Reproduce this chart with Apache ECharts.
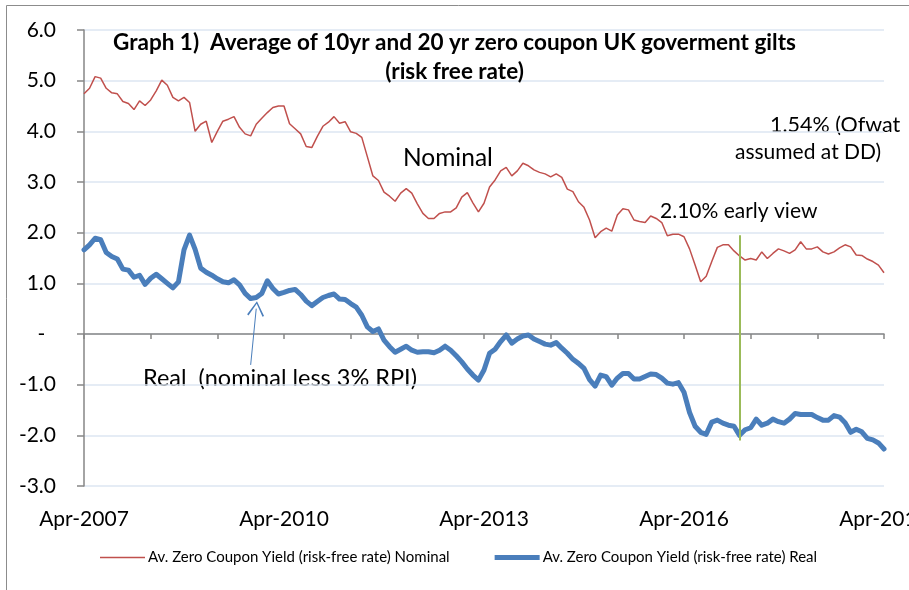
<!DOCTYPE html>
<html>
<head>
<meta charset="utf-8">
<script src="https://cdn.jsdelivr.net/npm/echarts@6/dist/echarts.min.js"></script>
<style>
  html, body { margin: 0; padding: 0; background: #fff; }
  #chart { width: 909px; height: 590px; }
</style>
</head>
<body>
<div id="chart"></div>
<script>
// monthly categories Apr-2007 .. Apr-2019
var monthNames = ["Jan", "Feb", "Mar", "Apr", "May", "Jun", "Jul", "Aug", "Sep", "Oct", "Nov", "Dec"];
var months = [];
for (var k = 3; k <= 12 * 12 + 3; k++) {
  months.push(monthNames[k % 12] + "-" + (2007 + Math.floor(k / 12)));
}

// av. zero coupon yield, nominal (%)
var nominal = [
  4.74, 4.85, 5.08, 5.05, 4.85, 4.76, 4.74, 4.59, 4.55, 4.43,
  4.60, 4.51, 4.62, 4.80, 5.01, 4.91, 4.67, 4.60, 4.67, 4.57,
  4.00, 4.14, 4.20, 3.78, 4.00, 4.20, 4.24, 4.29, 4.08, 3.95,
  3.91, 4.14, 4.26, 4.37, 4.47, 4.50, 4.50, 4.15, 4.05, 3.95,
  3.70, 3.68, 3.90, 4.10, 4.18, 4.29, 4.16, 4.19, 3.99, 3.96,
  3.88, 3.50, 3.12, 3.03, 2.80, 2.72, 2.62, 2.78, 2.87, 2.78,
  2.57, 2.38, 2.28, 2.28, 2.38, 2.41, 2.41, 2.49, 2.70, 2.79,
  2.59, 2.41, 2.58, 2.90, 3.04, 3.22, 3.29, 3.12, 3.22, 3.37,
  3.32, 3.24, 3.19, 3.16, 3.10, 3.16, 3.09, 2.86, 2.81, 2.61,
  2.50, 2.25, 1.90, 2.02, 2.09, 2.03, 2.35, 2.47, 2.45, 2.25,
  2.22, 2.20, 2.33, 2.28, 2.20, 1.94, 1.97, 1.97, 1.92, 1.68,
  1.36, 1.03, 1.14, 1.43, 1.71, 1.76, 1.76, 1.64, 1.54, 1.46,
  1.49, 1.46, 1.62, 1.49, 1.59, 1.68, 1.64, 1.59, 1.66, 1.82,
  1.68, 1.68, 1.72, 1.62, 1.58, 1.62, 1.70, 1.76, 1.72, 1.56,
  1.55, 1.48, 1.43, 1.36, 1.21
];

// av. zero coupon yield, real (%)
var real = [
  1.66, 1.76, 1.89, 1.86, 1.61, 1.53, 1.48, 1.28, 1.26, 1.12,
  1.16, 0.98, 1.10, 1.18, 1.09, 1.00, 0.91, 1.03, 1.66, 1.95,
  1.67, 1.30, 1.22, 1.16, 1.09, 1.03, 1.01, 1.07, 0.97, 0.80,
  0.70, 0.72, 0.80, 1.05, 0.90, 0.79, 0.82, 0.86, 0.88, 0.78,
  0.65, 0.56, 0.64, 0.72, 0.76, 0.79, 0.69, 0.68, 0.60, 0.53,
  0.37, 0.14, 0.05, 0.10, -0.12, -0.25, -0.36, -0.30, -0.24, -0.32,
  -0.36, -0.35, -0.35, -0.37, -0.32, -0.24, -0.32, -0.43, -0.55, -0.69,
  -0.81, -0.91, -0.71, -0.38, -0.30, -0.15, -0.02, -0.18, -0.10, -0.04,
  -0.02, -0.10, -0.15, -0.20, -0.22, -0.17, -0.28, -0.38, -0.50, -0.58,
  -0.68, -0.90, -1.03, -0.81, -0.84, -1.01, -0.87, -0.78, -0.78, -0.89,
  -0.89, -0.84, -0.79, -0.80, -0.87, -0.97, -0.99, -0.96, -1.15, -1.55,
  -1.82, -1.94, -1.98, -1.74, -1.70, -1.76, -1.80, -1.82, -2.00, -1.89,
  -1.85, -1.68, -1.80, -1.76, -1.68, -1.73, -1.76, -1.68, -1.57, -1.59,
  -1.59, -1.59, -1.65, -1.70, -1.70, -1.61, -1.64, -1.75, -1.94, -1.88,
  -1.93, -2.06, -2.09, -2.15, -2.27
];

var seriesNames = [
  "Av. Zero Coupon Yield (risk-free rate) Nominal",
  "Av. Zero Coupon Yield (risk-free rate) Real"
];

// "early view" marker month and the arrow pointing at the real line
var earlyViewIdx = 118;
var arrowFrom = [30, -0.61];
var arrowTo = [31, 0.5];

var font = "Lato, 'Open Sans', sans-serif";
var axisGrey = "#868686";
var chart = echarts.init(document.getElementById("chart"), null, { renderer: "canvas" });

chart.setOption({
  animation: false,
  backgroundColor: "#fff",
  textStyle: { fontFamily: font, color: "#000" },
  title: {
    text: "Graph 1)  Average of 10yr and 20 yr zero coupon UK goverment gilts\n(risk free rate)",
    left: "center",
    top: 28,
    padding: 0,
    textStyle: {
      fontFamily: font,
      fontSize: 22.5,
      fontWeight: "bold",
      lineHeight: 29,
      color: "#000",
    },
  },
  grid: {
    left: 84,
    right: 25,
    top: 30,
    bottom: 104,
    containLabel: false,
    outerBoundsMode: "none",
  },
  legend: {
    left: 100,
    top: 550,
    itemWidth: 45,
    itemHeight: 12,
    itemGap: 45,
    padding: 0,
    textStyle: { fontFamily: font, fontSize: 15, color: "#000", padding: [0, 0, 0, -2] },
    data: [
      { name: seriesNames[0], icon: "path://M0,0 H45 V1.5 H0 Z" },
      { name: seriesNames[1], icon: "path://M0,0 H45 V5 H0 Z" },
    ],
  },
  xAxis: [
    {
      // labels along the bottom
      type: "category",
      data: months,
      boundaryGap: false,
      position: "bottom",
      axisLine: { show: false, onZero: false },
      axisTick: { show: false },
      axisLabel: {
        interval: 35,
        margin: 23,
        fontSize: 21,
        color: "#000",
        fontFamily: font,
      },
      splitLine: { show: false },
    },
    {
      // axis line with yearly ticks sitting on zero
      type: "category",
      data: months,
      boundaryGap: false,
      position: "bottom",
      axisLine: { onZero: true, lineStyle: { color: axisGrey, width: 1.5 } },
      axisTick: { interval: 11, length: 5, lineStyle: { color: axisGrey, width: 1.5 } },
      axisLabel: { show: false },
      splitLine: { show: false },
    },
  ],
  yAxis: {
    type: "value",
    min: -3,
    max: 6,
    interval: 1,
    axisLine: { show: true, onZero: false, lineStyle: { color: axisGrey, width: 1.5 } },
    axisTick: { show: true, length: 7, lineStyle: { color: axisGrey, width: 1.5 } },
    axisLabel: {
      margin: 28,
      fontSize: 21,
      color: "#000",
      fontFamily: font,
      formatter: function (v) {
        return v === 0 ? "-  " : v.toFixed(1);
      },
    },
    splitLine: { lineStyle: { color: "#dce6f2", width: 1.5 } },
  },
  series: [
    {
      name: seriesNames[0],
      type: "line",
      data: nominal,
      symbol: "none",
      lineStyle: { color: "#c0504d", width: 1.5 },
      itemStyle: { color: "#c0504d" },
      z: 3,
      markLine: {
        silent: true,
        symbol: "none",
        label: { show: false },
        lineStyle: { color: "#9bbb59", width: 2, type: "solid" },
        data: [
          [{ coord: [earlyViewIdx, 1.95] }, { coord: [earlyViewIdx, -2.1] }],
        ],
      },
    },
    {
      name: seriesNames[1],
      type: "line",
      data: real,
      symbol: "none",
      lineStyle: { color: "#4a7ebb", width: 5, cap: "round", join: "round" },
      itemStyle: { color: "#4a7ebb" },
      z: 2,
      markLine: {
        silent: true,
        symbol: ["none", "path://M10,0 L20,18 L18.3,19.2 L10,3.4 L1.7,19.2 L0,18 Z"],
        symbolSize: [17, 15],
        label: { show: false },
        lineStyle: { color: "#4a7ebb", width: 1, type: "solid" },
        data: [
          [{ coord: arrowFrom }, { coord: arrowTo }],
        ],
      },
    },
  ],
  graphic: [
    {
      type: "rect",
      shape: { x: 6.5, y: 5.5, width: 1000, height: 1000 },
      style: { fill: "none", stroke: "#8c8c8c", lineWidth: 1 },
      silent: true,
    },
    {
      type: "text",
      x: 403,
      y: 158,
      style: { text: "Nominal", font: "24.5px " + font, fill: "#000", verticalAlign: "middle" },
    },
    {
      type: "text",
      x: 770,
      y: 125,
      style: { text: "1.54% (Ofwat", font: "21.5px " + font, fill: "#000", verticalAlign: "middle" },
    },
    {
      type: "text",
      x: 735,
      y: 152,
      style: { text: "assumed at DD)", font: "21px " + font, fill: "#000", verticalAlign: "middle" },
    },
    {
      type: "text",
      x: 660,
      y: 211,
      style: { text: "2.10% early view", font: "21px " + font, fill: "#000", verticalAlign: "middle" },
    },
    {
      type: "text",
      x: 143,
      y: 378,
      style: { text: "Real  (nominal less 3% RPI)", font: "23.5px " + font, fill: "#000", verticalAlign: "middle" },
    },
  ],
});
</script>
</body>
</html>
